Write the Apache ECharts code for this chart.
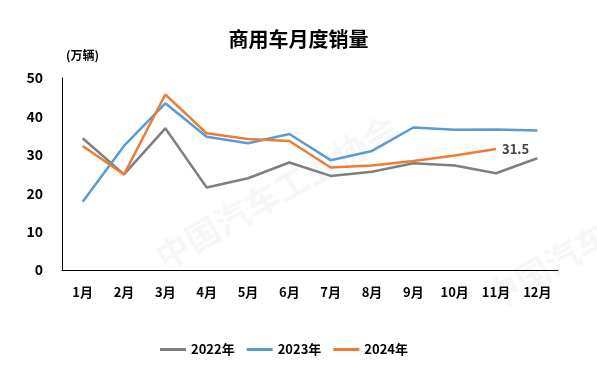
<!DOCTYPE html>
<html><head><meta charset="utf-8">
<script src="https://cdn.jsdelivr.net/npm/echarts@6/dist/echarts.min.js"></script>
<style>html,body{margin:0;padding:0;background:#fff}#c{width:597px;height:374px}</style>
</head><body><div id="c"></div>
<script>
const months = ['1月','2月','3月','4月','5月','6月','7月','8月','9月','10月','11月','12月'];
const s2022 = [34.3, 24.9, 36.9, 21.5, 23.9, 28.0, 24.5, 25.6, 27.8, 27.2, 25.2, 29.1];
const s2023 = [17.8, 32.3, 43.4, 34.7, 33.0, 35.4, 28.6, 31.0, 37.1, 36.5, 36.6, 36.3];
const s2024 = [32.3, 24.9, 45.7, 35.6, 34.1, 33.6, 26.7, 27.2, 28.4, 29.8, 31.5];
const seriesNames = ['2022年','2023年','2024年'];
const yTicks = [0, 10, 20, 30, 40, 50];

const font = '"Noto Sans CJK SC", "Microsoft YaHei", sans-serif';
const chart = echarts.init(document.getElementById('c'));
const wm = (x, y, size) => ({
  type: 'text', left: x, top: y, rotation: 0.52, z: -1, silent: true,
  style: { text: '中国汽车工业协会', fill: 'rgba(200,205,215,0.16)', font: 'bold ' + size + 'px ' + font }
});
chart.setOption({
  animation: false,
  textStyle: { fontFamily: font },
  title: {
    text: '商用车月度销量', left: 'center', top: 24,
    textStyle: { fontSize: 20, fontWeight: 'bold', color: '#000', fontFamily: font }
  },
  graphic: [
    { type: 'text', left: 66, top: 49, style: { text: '(万辆)', fill: '#000', font: 'bold 12px ' + font } },
    wm(150, 110, 34), wm(480, 150, 34)
  ],
  grid: { left: 62, right: 39, top: 78, bottom: 104 },
  legend: {
    bottom: 13, left: 155, itemGap: 12, itemWidth: 26, itemHeight: 3, icon: 'rect',
    textStyle: { fontSize: 13, fontWeight: 'bold', color: '#000', fontFamily: font },
    data: seriesNames
  },
  xAxis: {
    type: 'category', data: months, boundaryGap: true,
    axisLine: { lineStyle: { color: '#000', width: 1 } },
    axisTick: { show: false },
    axisLabel: { fontSize: 13, fontWeight: 'bold', color: '#000', margin: 16, fontFamily: font }
  },
  yAxis: {
    type: 'value', min: yTicks[0], max: yTicks[yTicks.length - 1], interval: 10,
    axisLine: { show: true, lineStyle: { color: '#000', width: 1 } },
    axisTick: { show: false },
    splitLine: { show: false },
    axisLabel: { fontSize: 14, fontWeight: 'bold', color: '#000', margin: 19, fontFamily: font }
  },
  series: [
    { name: seriesNames[0], type: 'line', data: s2022, symbol: 'none', lineStyle: { color: '#7f7f7f', width: 2.5 }, itemStyle: { color: '#7f7f7f' } },
    { name: seriesNames[1], type: 'line', data: s2023, symbol: 'none', lineStyle: { color: '#5b9bd5', width: 2.5 }, itemStyle: { color: '#5b9bd5' } },
    { name: seriesNames[2], type: 'line', data: s2024, symbol: 'none', lineStyle: { color: '#ed7d31', width: 2.5 }, itemStyle: { color: '#ed7d31' },
      endLabel: { show: true, formatter: p => p.value, fontSize: 13, fontWeight: 'bold', color: '#404040', distance: 6, fontFamily: font } }
  ]
});
</script></body></html>
